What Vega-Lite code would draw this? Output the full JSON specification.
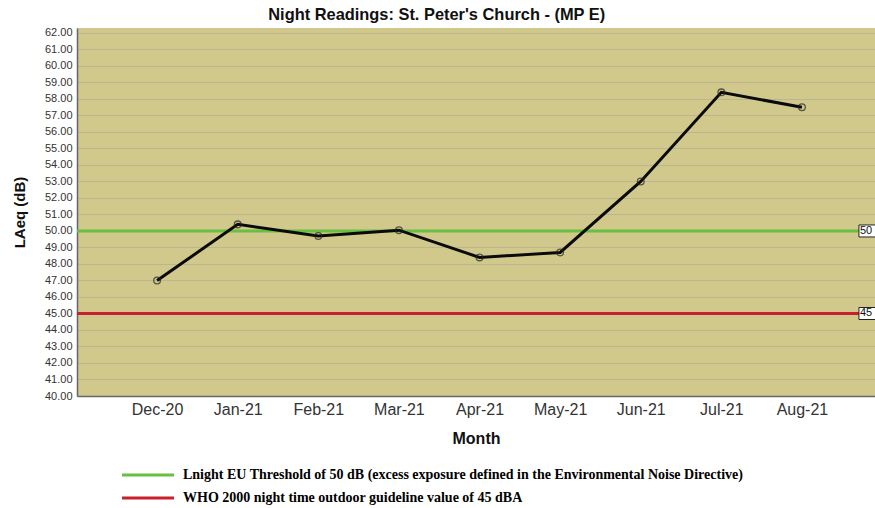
{
  "$schema": "https://vega.github.io/schema/vega-lite/v6.json",
  "width": 798,
  "height": 368,
  "autosize": {"type": "none"},
  "padding": {"left": 77, "top": 28, "right": 0, "bottom": 112},
  "background": "white",
  "config": {
    "font": "Liberation Sans",
    "view": {"fill": "#d1c98c", "stroke": null}
  },
  "title": {
    "text": "Night Readings: St. Peter's Church - (MP E)",
    "fontSize": 16.4,
    "fontWeight": "bold",
    "font": "Liberation Sans",
    "color": "#111",
    "anchor": "middle",
    "frame": "bounds",
    "dx": -10,
    "offset": 4
  },
  "datasets": {
    "readings": [
      {"month": "Dec-20", "laeq": 47.0},
      {"month": "Jan-21", "laeq": 50.4},
      {"month": "Feb-21", "laeq": 49.7},
      {"month": "Mar-21", "laeq": 50.05},
      {"month": "Apr-21", "laeq": 48.4},
      {"month": "May-21", "laeq": 48.7},
      {"month": "Jun-21", "laeq": 53.0},
      {"month": "Jul-21", "laeq": 58.4},
      {"month": "Aug-21", "laeq": 57.5}
    ],
    "thresholds": [
      {"laeq": 50, "label": "50", "series": "Lnight EU Threshold of 50 dB (excess exposure defined in the Environmental Noise Directive)"},
      {"laeq": 45, "label": "45", "series": "WHO 2000 night time outdoor guideline value of 45 dBA"}
    ]
  },
  "encoding": {
    "y": {
      "field": "laeq",
      "type": "quantitative",
      "scale": {"domain": [40, 62.3], "nice": false, "zero": false},
      "axis": {
        "title": "LAeq (dB)",
        "titleFontSize": 15,
        "titleFontWeight": "bold",
        "titleColor": "#111",
        "titlePadding": 17,
        "format": ".2f",
        "values": [40,41,42,43,44,45,46,47,48,49,50,51,52,53,54,55,56,57,58,59,60,61,62],
        "labelOverlap": false,
        "labelFontSize": 11,
        "labelColor": "#333",
        "labelPadding": 5,
        "ticks": false,
        "grid": true,
        "gridColor": "#bdb592",
        "gridWidth": 1.2,
        "domainColor": "#666",
        "domainWidth": 1.5
      }
    }
  },
  "layer": [
    {
      "data": {"name": "thresholds"},
      "mark": {"type": "rule", "strokeWidth": 3},
      "encoding": {
        "color": {
          "field": "series",
          "type": "nominal",
          "scale": {
            "domain": [
              "Lnight EU Threshold of 50 dB (excess exposure defined in the Environmental Noise Directive)",
              "WHO 2000 night time outdoor guideline value of 45 dBA"
            ],
            "range": ["#69bf3f", "#c8202d"]
          },
          "legend": {
            "title": null,
            "orient": "none",
            "legendX": 64,
            "legendY": 440,
            "direction": "vertical",
            "symbolType": "M-5,0H5",
            "symbolSize": 108,
            "symbolStrokeWidth": 3,
            "labelFont": "Liberation Serif",
            "labelFontWeight": "bold",
            "labelFontSize": 14,
            "labelColor": "#000",
            "labelOffset": 28,
            "rowPadding": 9,
            "labelLimit": 750
          }
        }
      }
    },
    {
      "data": {"name": "readings"},
      "mark": {"type": "line", "color": "#0a0a0a", "strokeWidth": 3},
      "encoding": {
        "x": {
          "field": "month",
          "type": "ordinal",
          "sort": null,
          "scale": {"type": "point", "padding": 0.95, "align": 0.523},
          "axis": {
            "title": "Month",
            "titleFontSize": 16,
            "titleFontWeight": "bold",
            "titleColor": "#111",
            "titlePadding": 13,
            "labelFontSize": 16,
            "labelColor": "#333",
            "labelAngle": 0,
            "labelPadding": 5,
            "ticks": false,
            "domainColor": "#666",
            "domainWidth": 1.5
          }
        }
      }
    },
    {
      "data": {"name": "readings"},
      "mark": {"type": "point", "shape": "circle", "size": 45, "stroke": "#222", "strokeWidth": 1.3, "filled": false},
      "encoding": {
        "x": {"field": "month", "type": "ordinal", "sort": null}
      }
    },
    {
      "data": {"name": "thresholds"},
      "mark": {"type": "point", "shape": "M0,-0.6H2V0.6H0Z", "size": 400, "filled": true, "fill": "white", "stroke": "#222", "strokeWidth": 1, "opacity": 1, "xOffset": 57},
      "encoding": {
        "x": {"datum": "Aug-21", "type": "ordinal"}
      }
    },
    {
      "data": {"name": "thresholds"},
      "mark": {"type": "text", "align": "left", "baseline": "middle", "fontSize": 11, "color": "#111", "xOffset": 58},
      "encoding": {
        "x": {"datum": "Aug-21", "type": "ordinal"},
        "text": {"field": "label"}
      }
    }
  ]
}
